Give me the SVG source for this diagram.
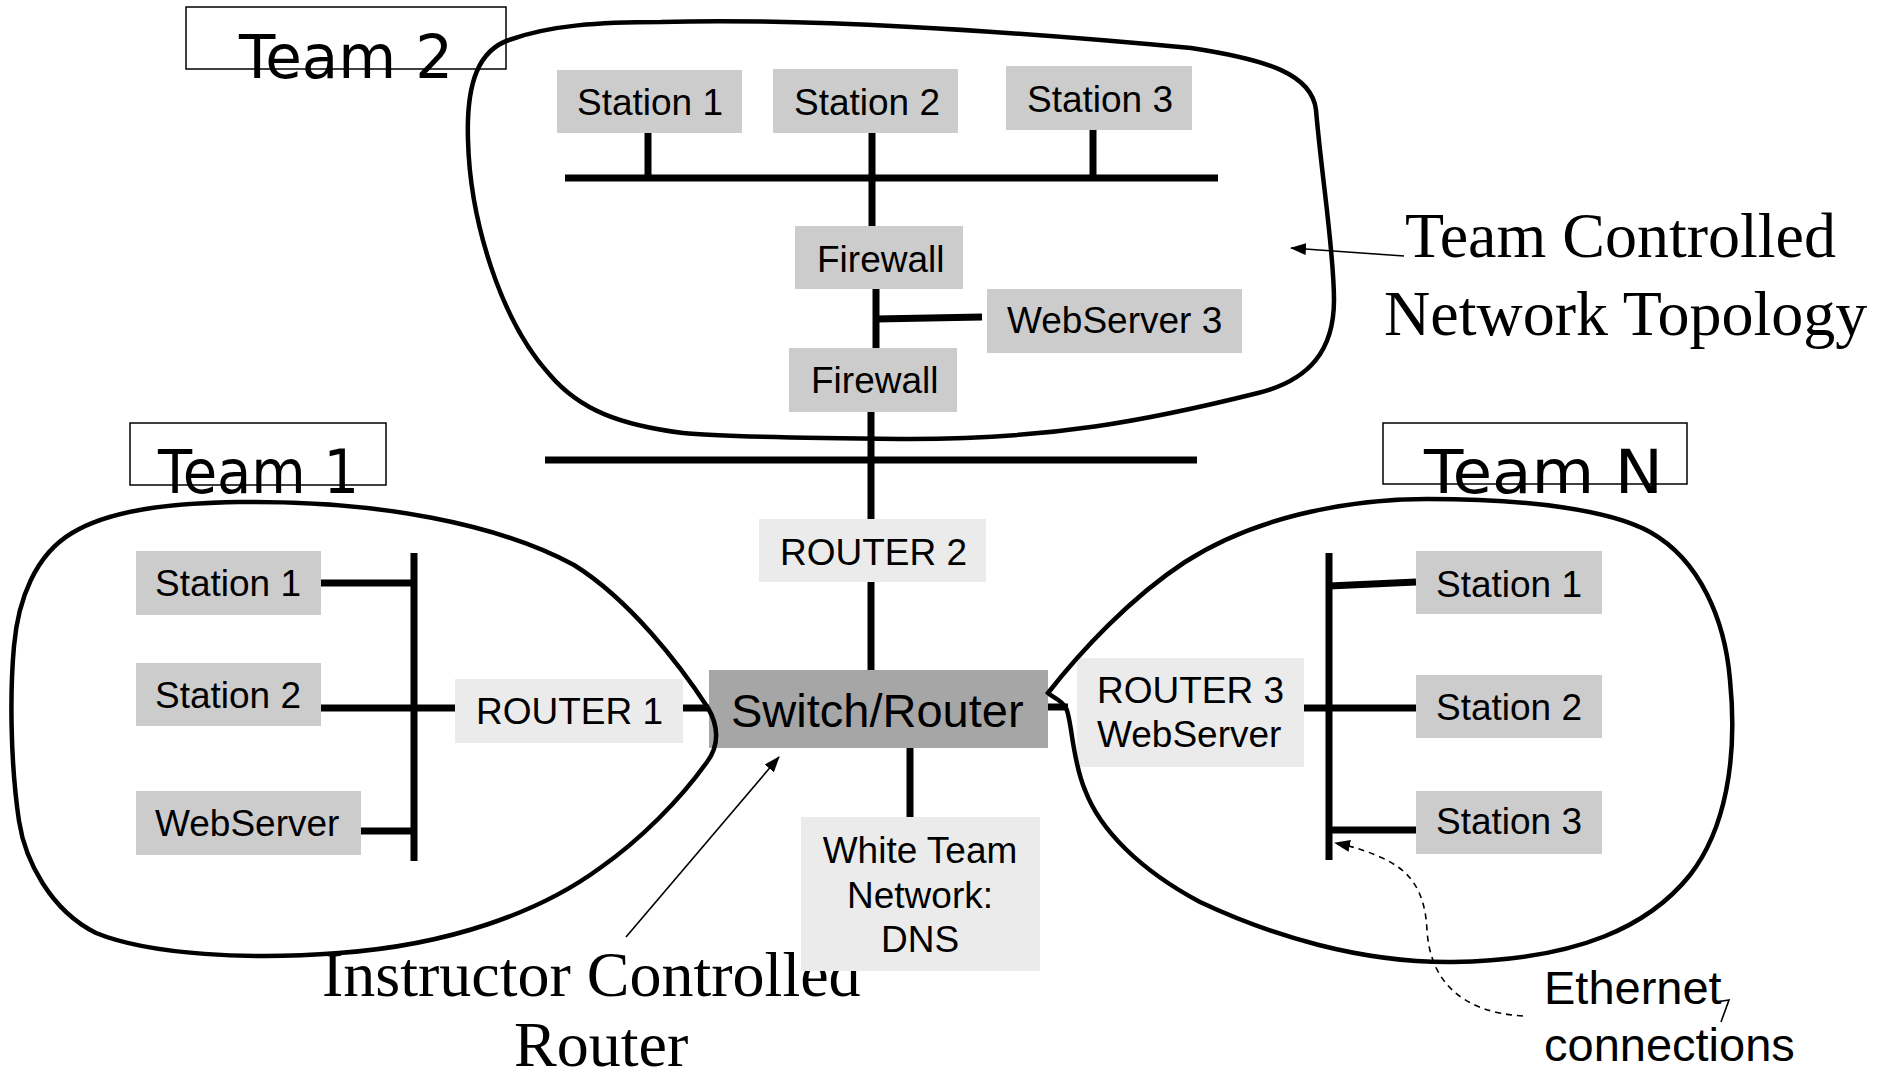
<svg xmlns="http://www.w3.org/2000/svg" width="1894" height="1078" viewBox="0 0 1894 1078">
<defs>
<style>
.box{fill:#cccccc}
.lbox{fill:#ebebeb}
.sw{fill:#a6a6a6}
.t{font-family:"Liberation Sans",Arial,sans-serif;font-size:37px;fill:#000}
.big{font-family:"Liberation Sans",Arial,sans-serif;font-size:47px;fill:#000}
.serif{font-family:"Liberation Serif","Times New Roman",serif;font-size:64px;fill:#000}
.team{font-family:"DejaVu Sans",sans-serif;font-size:60px;fill:#000}
.tbox{fill:none;stroke:#000;stroke-width:1.5}
.bus{stroke:#000;stroke-width:7;fill:none}
.cloud{fill:none;stroke:#000;stroke-width:4.5}
.thin{stroke:#000;stroke-width:1.6;fill:none}
.dash{stroke:#000;stroke-width:1.6;fill:none;stroke-dasharray:6 5}
</style>
<marker id="ah" markerUnits="userSpaceOnUse" markerWidth="16" markerHeight="12" refX="15" refY="6" orient="auto"><path d="M0,0 L16,6 L0,12 Z" fill="#000"/></marker>
</defs>
<rect width="1894" height="1078" fill="#fff"/>

<g id="connectors">
<path class="bus" d="M565,178 H1218"/>
<path class="bus" d="M648,125 V178"/>
<path class="bus" d="M872,133 V226"/>
<path class="bus" d="M1093,130 V178"/>
<path class="bus" d="M876,289 V348"/>
<path class="bus" d="M876,319 L982,317"/>
<path class="bus" d="M871,411 V519"/>
<path class="bus" d="M545,460 H1197"/>
<path class="bus" d="M871,582 V670"/>
<path class="bus" d="M910,748 V817"/>
<path class="bus" d="M683,708 H710"/>
<path class="bus" d="M1048,707 H1068"/>
<path class="bus" d="M414,553 V861"/>
<path class="bus" d="M321,583 H414"/>
<path class="bus" d="M321,708 H455"/>
<path class="bus" d="M361,831 H414"/>
<path class="bus" d="M1329,553 V860"/>
<path class="bus" d="M1329,586 L1416,582"/>
<path class="bus" d="M1304,708 H1416"/>
<path class="bus" d="M1329,830 H1416"/>
<path class="thin" d="M1404,256 L1291,248" marker-end="url(#ah)"/>
<path class="thin" d="M626,937 L779,757" marker-end="url(#ah)"/>
<path class="dash" d="M1523,1016 C1460,1012 1430,980 1427,930 C1425,890 1410,870 1380,857 C1362,849 1350,846 1335,843" marker-end="url(#ah)"/>
<path class="thin" d="M1716,1002 L1729,1000 L1721,1022"/>
</g>

<g id="labels">
<text class="serif" x="1405" y="257">Team Controlled</text>
<text class="serif" x="1384" y="335">Network Topology</text>
<text class="serif" x="322" y="996">Instructor Controlled</text>
<text class="serif" x="514" y="1066">Router</text>
<text class="big" x="1544" y="1004">Ethernet</text>
<text class="big" x="1544" y="1061">connections</text>
</g>

<g id="team2-station1"><rect class="box" x="557" y="70" width="185" height="63"/><text class="t" x="577" y="115">Station 1</text></g>
<g id="team2-station2"><rect class="box" x="773" y="69" width="185" height="64"/><text class="t" x="794" y="115">Station 2</text></g>
<g id="team2-station3"><rect class="box" x="1006" y="66" width="186" height="64"/><text class="t" x="1027" y="112">Station 3</text></g>
<g id="team2-firewall1"><rect class="box" x="795" y="226" width="168" height="63"/><text class="t" x="817" y="272">Firewall</text></g>
<g id="team2-webserver3"><rect class="box" x="987" y="289" width="255" height="64"/><text class="t" x="1007" y="333">WebServer 3</text></g>
<g id="team2-firewall2"><rect class="box" x="789" y="348" width="168" height="64"/><text class="t" x="811" y="393">Firewall</text></g>
<g id="router2"><rect class="lbox" x="759" y="519" width="227" height="63"/><text class="t" x="780" y="565">ROUTER 2</text></g>
<g id="switch-router"><rect class="sw" x="709" y="670" width="339" height="78"/><text class="big" x="731" y="727">Switch/Router</text></g>
<g id="white-team"><rect class="lbox" x="801" y="817" width="239" height="154"/><text class="t" text-anchor="middle" x="920" y="863">White Team</text><text class="t" text-anchor="middle" x="920" y="908">Network:</text><text class="t" text-anchor="middle" x="920" y="952">DNS</text></g>
<g id="router1"><rect class="lbox" x="455" y="679" width="228" height="64"/><text class="t" x="476" y="724">ROUTER 1</text></g>
<g id="router3"><rect class="lbox" x="1077" y="658" width="227" height="109"/><text class="t" x="1097" y="703">ROUTER 3</text><text class="t" x="1097" y="747">WebServer</text></g>
<g id="team1-station1"><rect class="box" x="136" y="551" width="185" height="64"/><text class="t" x="155" y="596">Station 1</text></g>
<g id="team1-station2"><rect class="box" x="136" y="663" width="185" height="63"/><text class="t" x="155" y="708">Station 2</text></g>
<g id="team1-webserver"><rect class="box" x="136" y="791" width="225" height="64"/><text class="t" x="155" y="836">WebServer</text></g>
<g id="teamN-station1"><rect class="box" x="1416" y="551" width="186" height="63"/><text class="t" x="1436" y="597">Station 1</text></g>
<g id="teamN-station2"><rect class="box" x="1416" y="675" width="186" height="63"/><text class="t" x="1436" y="720">Station 2</text></g>
<g id="teamN-station3"><rect class="box" x="1416" y="791" width="186" height="63"/><text class="t" x="1436" y="834">Station 3</text></g>

<g id="regions">
<path class="cloud" d="M661,22 C800,18 1000,30 1191,48 C1270,60 1312,75 1316,110 C1322,180 1334,250 1334,300 C1334,350 1310,380 1258,393 C1150,420 1050,440 900,439 C800,438 720,437 683,433 C620,425 580,410 550,375 C500,320 470,220 468,140 C466,80 480,50 509,40 C550,25 600,22 661,22 Z"/>
<path class="cloud" d="M239,502 C380,500 500,525 574,565 C630,600 680,665 708,708 C718,725 720,745 707,762 C680,800 640,840 600,868 C540,912 450,945 339,953 C250,960 150,955 96,933 C50,910 25,860 19,821 C10,760 10,690 14,646 C18,600 35,555 72,533 C110,510 170,503 239,502 Z"/>
<path class="cloud" d="M1048,693 C1080,652 1130,598 1185,562 C1250,520 1340,499 1427,499 C1530,499 1610,510 1650,532 C1700,560 1725,620 1730,680 C1738,760 1725,830 1690,875 C1650,925 1580,960 1453,962 C1360,963 1270,935 1200,902 C1140,870 1100,830 1085,790 C1072,760 1072,720 1066,708 C1062,700 1052,697 1048,693 Z"/>
</g>

<g id="team2-label"><rect class="tbox" x="186" y="7" width="320" height="62"/><text class="team" x="239" y="78" textLength="214" lengthAdjust="spacingAndGlyphs">Team 2</text></g>
<g id="team1-label"><rect class="tbox" x="130" y="423" width="256" height="62"/><text class="team" x="158" y="493" textLength="201" lengthAdjust="spacingAndGlyphs">Team 1</text></g>
<g id="teamN-label"><rect class="tbox" x="1383" y="423" width="304" height="61"/><text class="team" x="1424" y="493" textLength="239" lengthAdjust="spacingAndGlyphs">Team N</text></g>
</svg>
